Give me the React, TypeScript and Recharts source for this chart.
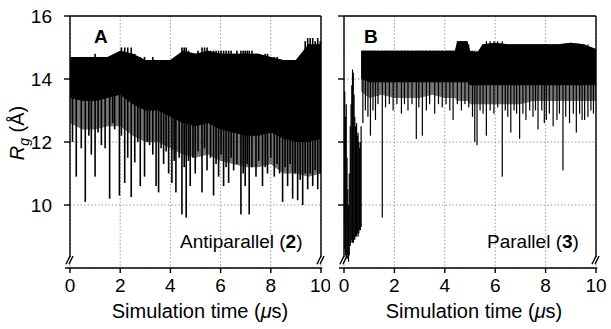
import { ComposedChart, Area, Bar, XAxis, YAxis, CartesianGrid, ReferenceLine } from 'recharts';

// Panel A: antiparallel (2)
const bandTimeA = [0, 0.5, 1, 1.5, 2, 2.5, 3, 3.5, 4, 4.5, 5, 5.5, 6, 6.5, 7, 7.5, 8, 8.5, 9, 9.5, 10];
const bandHighA = [14.7, 14.7, 14.7, 14.7, 14.9, 14.8, 14.6, 14.6, 14.6, 14.9, 14.8, 14.9, 14.8, 14.8, 14.8, 14.8, 14.7, 14.6, 14.6, 15.1, 15.1];
const bandCoreA = [13.4, 13.3, 13.3, 13.4, 13.5, 13.2, 13.0, 13.0, 12.8, 12.6, 12.5, 12.6, 12.4, 12.3, 12.2, 12.2, 12.3, 12.1, 12.0, 12.0, 12.1];
const bandFringeA = [12.6, 12.4, 12.4, 12.5, 12.5, 12.2, 12.0, 12.0, 11.8, 11.6, 11.5, 11.6, 11.4, 11.3, 11.2, 11.2, 11.3, 11.0, 11.0, 10.9, 11.0];

const spikeTimeA = [0.1, 0.25, 0.45, 0.61, 0.75, 0.85, 1.0, 1.12, 1.25, 1.4, 1.58, 1.7, 1.78, 1.97, 2.05, 2.18, 2.3, 2.44, 2.58, 2.7, 2.8, 2.97, 3.08, 3.17, 3.3, 3.43, 3.53, 3.63, 3.73, 3.83, 3.93, 4.06, 4.15, 4.22, 4.35, 4.46, 4.55, 4.63, 4.72, 4.79, 4.9, 4.99, 5.1, 5.26, 5.36, 5.46, 5.6, 5.72, 5.82, 5.92, 6.02, 6.12, 6.22, 6.32, 6.42, 6.52, 6.65, 6.81, 6.9, 6.98, 7.06, 7.14, 7.25, 7.41, 7.52, 7.67, 7.78, 7.87, 8.0, 8.14, 8.25, 8.35, 8.47, 8.57, 8.67, 8.77, 8.87, 8.97, 9.07, 9.17, 9.27, 9.37, 9.47, 9.57, 9.67, 9.77, 9.87, 9.97];
const spikeLowA = [12.0, 10.9, 11.8, 10.1, 12.2, 11.6, 10.9, 12.3, 11.9, 11.8, 10.2, 12.6, 12.4, 10.3, 12.2, 10.7, 11.5, 10.25, 11.35, 12.0, 10.6, 10.9, 12.0, 11.9, 11.6, 10.6, 10.4, 11.8, 11.3, 11.7, 11.0, 10.7, 11.4, 10.4, 11.5, 9.7, 11.2, 9.6, 11.4, 10.6, 11.5, 11.0, 11.7, 10.4, 11.8, 11.1, 11.5, 10.3, 11.3, 10.9, 11.6, 10.6, 11.2, 10.7, 11.5, 11.1, 11.3, 9.7, 11.0, 10.6, 11.3, 9.7, 11.2, 10.9, 11.4, 10.6, 11.2, 11.0, 11.5, 10.9, 11.3, 11.0, 10.1, 11.2, 10.6, 11.3, 10.2, 11.0, 10.15, 10.8, 10.0, 11.0, 10.5, 11.0, 10.6, 11.1, 10.5, 11.0];
const spikeHighA = [14.6, 14.6, 14.7, 14.6, 14.7, 14.7, 14.8, 14.6, 14.7, 14.7, 14.7, 14.6, 14.7, 14.7, 15.0, 15.0, 15.0, 15.0, 14.8, 14.7, 14.7, 14.7, 14.6, 14.6, 14.7, 14.6, 14.6, 14.6, 14.6, 14.6, 14.6, 14.6, 14.6, 14.5, 14.7, 15.0, 15.0, 15.0, 14.9, 14.8, 14.8, 14.8, 14.9, 15.0, 15.0, 15.0, 14.9, 14.9, 14.9, 14.9, 14.9, 14.9, 14.9, 14.9, 14.9, 14.8, 14.9, 14.9, 14.9, 14.9, 14.9, 14.9, 14.9, 14.8, 14.8, 14.7, 14.8, 14.8, 14.7, 14.7, 14.7, 14.6, 14.6, 14.6, 14.6, 14.6, 14.6, 14.6, 14.6, 14.6, 14.6, 15.2, 15.3, 15.3, 15.3, 15.2, 15.3, 15.2];

// Panel B: parallel (3)
const bandTimeB = [0.68, 1, 1.5, 2, 2.5, 3, 3.5, 4, 4.4, 4.5, 4.9, 5.0, 5.3, 5.5, 6, 6.5, 7, 7.5, 8, 8.5, 9, 9.5, 10];
const bandHighB = [14.9, 14.9, 14.9, 14.9, 14.9, 14.9, 14.9, 14.9, 14.9, 15.2, 15.2, 14.9, 14.85, 15.1, 15.15, 15.1, 15.1, 15.1, 15.1, 15.1, 15.15, 15.1, 14.95];
const bandCoreB = [14.0, 13.9, 13.9, 13.9, 13.9, 13.9, 13.9, 13.9, 13.9, 13.9, 13.9, 13.8, 13.8, 13.8, 13.8, 13.8, 13.8, 13.8, 13.8, 13.8, 13.8, 13.8, 13.8];
const bandFringeB = [13.6, 13.4, 13.5, 13.4, 13.4, 13.4, 13.5, 13.4, 13.4, 13.3, 13.3, 13.2, 13.2, 13.2, 13.2, 13.2, 13.2, 13.3, 13.3, 13.3, 13.3, 13.3, 13.3];

const spikeTimeB = [0.0, 0.03, 0.06, 0.09, 0.12, 0.15, 0.18, 0.21, 0.25, 0.28, 0.31, 0.34, 0.37, 0.4, 0.43, 0.46, 0.5, 0.53, 0.56, 0.59, 0.62, 0.65, 0.68, 0.75, 0.85, 0.95, 1.05, 1.15, 1.25, 1.35, 1.52, 1.65, 1.8, 1.95, 2.1, 2.28, 2.4, 2.54, 2.7, 2.87, 2.97, 3.11, 3.27, 3.4, 3.6, 3.75, 3.9, 4.05, 4.2, 4.33, 4.5, 4.66, 4.8, 4.95, 5.1, 5.19, 5.28, 5.4, 5.52, 5.65, 5.8, 5.95, 6.1, 6.28, 6.4, 6.5, 6.62, 6.75, 6.85, 6.97, 7.1, 7.22, 7.37, 7.5, 7.6, 7.7, 7.85, 7.95, 8.03, 8.15, 8.3, 8.45, 8.55, 8.69, 8.8, 8.95, 9.1, 9.22, 9.35, 9.45, 9.55, 9.68, 9.8, 9.9];
const spikeLowB = [9.5, 8.6, 8.4, 8.3, 8.4, 8.3, 8.2, 8.4, 8.7, 8.8, 8.9, 8.8, 8.8, 8.9, 8.9, 9.0, 9.0, 9.1, 9.0, 9.1, 9.2, 9.2, 9.3, 12.6, 13.0, 12.8, 12.2, 13.0, 12.7, 13.2, 9.6, 13.1, 13.2, 13.0, 13.2, 12.9, 13.2, 13.0, 13.2, 12.1, 13.1, 12.2, 13.0, 13.2, 12.9, 13.2, 13.1, 13.2, 13.0, 12.7, 13.2, 13.0, 13.2, 13.1, 12.8, 12.0, 11.9, 13.0, 12.9, 12.2, 13.0, 12.9, 13.1, 10.9, 13.0, 12.8, 12.3, 13.0, 12.9, 12.1, 12.9, 12.7, 13.0, 12.8, 13.0, 12.4, 13.0, 12.6, 12.7, 12.9, 12.5, 12.7, 12.9, 11.1, 12.8, 12.6, 12.9, 12.3, 12.9, 12.7, 12.7, 12.8, 13.0, 12.9];
const spikeHighB = [12.0, 13.6, 12.8, 13.2, 11.5, 10.5, 10.0, 11.0, 12.5, 13.2, 13.8, 14.3, 14.2, 13.5, 12.8, 12.5, 12.6, 12.2, 12.3, 12.0, 11.8, 12.0, 12.5, 14.9, 14.9, 14.9, 14.9, 14.9, 14.9, 14.9, 14.9, 14.9, 14.9, 14.9, 14.9, 14.9, 14.9, 14.9, 14.9, 14.9, 14.9, 14.9, 14.9, 14.9, 14.9, 14.9, 14.9, 14.9, 14.9, 14.9, 15.2, 15.2, 15.2, 15.1, 14.9, 14.9, 14.9, 14.9, 15.1, 15.2, 15.2, 15.2, 15.2, 15.2, 15.1, 15.1, 15.1, 15.1, 15.1, 15.1, 15.1, 15.1, 15.1, 15.1, 15.1, 15.1, 15.1, 15.1, 15.1, 15.1, 15.1, 15.1, 15.1, 15.1, 15.1, 15.1, 15.1, 15.1, 15.1, 15.1, 15.1, 15.1, 15.0, 14.9];

const xTicks = [0, 2, 4, 6, 8, 10];
const yTicks = [10, 12, 14, 16];

const FONT = '"Liberation Sans", Arial, Helvetica, sans-serif';

type Band = { t: number; band: number[]; fringe: number[] };
type Spike = { t: number; range: number[] };

function makeBand(t: number[], hi: number[], core: number[], fringe: number[]): Band[] {
    return t.map((v, i) => ({ t: v, band: [core[i], hi[i]], fringe: [fringe[i], hi[i]] }));
}

function makeSpikes(t: number[], lo: number[], hi: number[]): Spike[] {
    return t.map((v, i) => ({ t: v, range: [lo[i], hi[i]] }));
}

// recharts shrinks bars on a tight numeric axis, so draw a fixed-width stroke at the bar centre
function spikeShape(w: number) {
    return (p: any) => {
        if (p.height == null || isNaN(p.height)) return <g />;
        const cx = p.x + p.width / 2;
        const top = Math.min(p.y, p.y + p.height);
        return <rect x={cx - w / 2} y={top} width={w} height={Math.abs(p.height)} fill="#000" />;
    };
}

interface PanelProps {
    band: Band[];
    spikes: Spike[];
    width: number;
    yAxisWidth: number;
    right: number;
    showYLabels: boolean;
    spikeWidth: number;
}

function Panel({ band, spikes, width, yAxisWidth, right, showYLabels, spikeWidth }: PanelProps) {
    const frame = { stroke: '#000', strokeWidth: 1.4, ifOverflow: 'visible' as const };
    return (
        <ComposedChart width={width} height={329} data={spikes} margin={{ top: 16, right, left: 0, bottom: 0 }}>
            <CartesianGrid stroke="#9a9a9a" strokeDasharray="1.5 2" />
            <XAxis
                dataKey="t"
                type="number"
                domain={[0, 10]}
                ticks={xTicks}
                allowDataOverflow
                height={61}
                axisLine={false}
                tickSize={5}
                tickMargin={6}
                tickLine={{ stroke: '#000', strokeWidth: 1.4 }}
                tick={{ fill: '#000', fontSize: 19, fontFamily: FONT }}
            />
            <YAxis
                type="number"
                domain={[8, 16]}
                ticks={yTicks}
                allowDataOverflow
                width={yAxisWidth}
                axisLine={false}
                tickSize={6}
                tickMargin={12}
                tickLine={{ stroke: '#000', strokeWidth: 1.4 }}
                tick={{ fill: '#000', fontSize: 19, fontFamily: FONT }}
                tickFormatter={(v: number) => (showYLabels ? String(v) : '')}
            />
            <Area data={band} dataKey="fringe" type="linear" stroke="none" fill="#1a1a1a" fillOpacity={0.6} isAnimationActive={false} />
            <Area data={band} dataKey="band" type="linear" stroke="none" fill="#000" fillOpacity={1} isAnimationActive={false} />
            <Bar dataKey="range" fill="#000" barSize={2} shape={spikeShape(spikeWidth)} isAnimationActive={false} />
            <ReferenceLine segment={[{ x: 0, y: 16 }, { x: 10, y: 16 }]} {...frame} />
            <ReferenceLine segment={[{ x: 0, y: 8.35 }, { x: 0, y: 16 }]} {...frame} />
            <ReferenceLine segment={[{ x: 10, y: 8.35 }, { x: 10, y: 16 }]} {...frame} />
            <ReferenceLine segment={[{ x: -0.2, y: 8 }, { x: 10.05, y: 8 }]} {...frame} />
            <ReferenceLine segment={[{ x: -0.16, y: 8.12 }, { x: 0.0, y: 8.38 }]} {...frame} />
            <ReferenceLine segment={[{ x: -0.04, y: 8.12 }, { x: 0.12, y: 8.38 }]} {...frame} />
            <ReferenceLine segment={[{ x: 9.84, y: 8.12 }, { x: 10.0, y: 8.38 }]} {...frame} />
            <ReferenceLine segment={[{ x: 9.96, y: 8.12 }, { x: 10.12, y: 8.38 }]} {...frame} />
        </ComposedChart>
    );
}

const textBase = { position: 'absolute' as const, fontFamily: FONT, color: '#000', whiteSpace: 'nowrap' as const, lineHeight: 1 };

export default function App() {
    const bandA = makeBand(bandTimeA, bandHighA, bandCoreA, bandFringeA);
    const bandB = makeBand(bandTimeB, bandHighB, bandCoreB, bandFringeB);
    const spikesA = makeSpikes(spikeTimeA, spikeLowA, spikeHighA);
    const spikesB = makeSpikes(spikeTimeB, spikeLowB, spikeHighB);

    return (
        <div style={{ position: 'absolute', left: 0, top: 0, width: 611, height: 329, background: '#fff', overflow: 'hidden' }}>
            <div style={{ position: 'absolute', left: 0, top: 0 }}>
                <Panel band={bandA} spikes={spikesA} width={330} yAxisWidth={70} right={9} showYLabels spikeWidth={1.6} />
            </div>
            <div style={{ position: 'absolute', left: 300, top: 0 }}>
                <Panel band={bandB} spikes={spikesB} width={311} yAxisWidth={44} right={15} showYLabels={false} spikeWidth={1.2} />
            </div>

            <div style={{ ...textBase, left: 94, top: 27, fontSize: 19, fontWeight: 'bold' }}>A</div>
            <div style={{ ...textBase, left: 364, top: 27, fontSize: 19, fontWeight: 'bold' }}>B</div>
            <div style={{ ...textBase, left: 180, top: 232, fontSize: 19 }}>
                Antiparallel (<b>2</b>)
            </div>
            <div style={{ ...textBase, left: 487, top: 232, fontSize: 19 }}>
                Parallel (<b>3</b>)
            </div>
            <div style={{ ...textBase, left: 200, top: 311, fontSize: 20, transform: 'translate(-50%, -50%)' }}>
                Simulation time (<i>μ</i>s)
            </div>
            <div style={{ ...textBase, left: 474, top: 311, fontSize: 20, transform: 'translate(-50%, -50%)' }}>
                Simulation time (<i>μ</i>s)
            </div>
            <div style={{ ...textBase, left: 19, top: 133, fontSize: 20, transform: 'translate(-50%, -50%) rotate(-90deg)' }}>
                <i>R</i>
                <sub style={{ fontSize: 14, fontStyle: 'italic' }}>g</sub> (Å)
            </div>
        </div>
    );
}
